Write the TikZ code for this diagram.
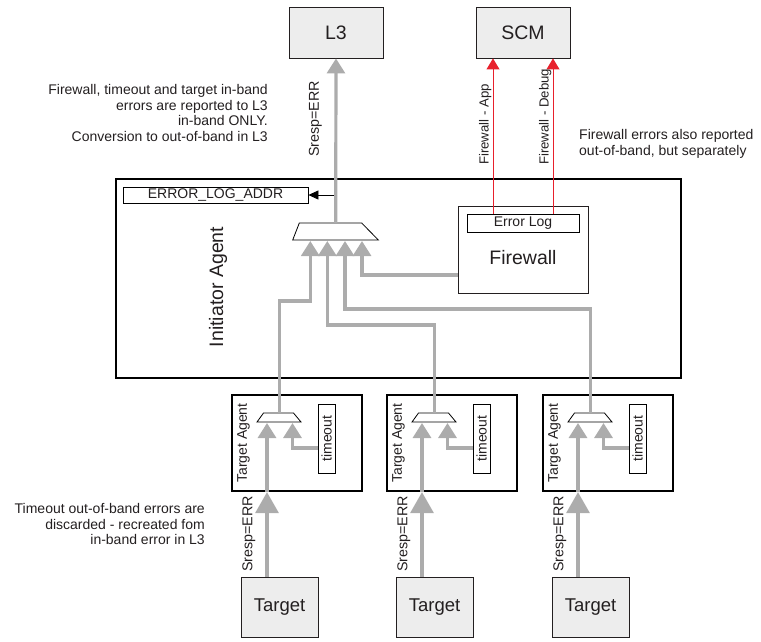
\documentclass[tikz,border=0pt]{standalone}
\usepackage{fontspec}
\setmainfont{Liberation Sans}
\usetikzlibrary{arrows.meta}
\definecolor{errgray}{RGB}{172,172,172}
\definecolor{boxgray}{RGB}{237,237,237}
\definecolor{fwred}{RGB}{232,32,44}
\definecolor{ink}{RGB}{35,31,32}

\begin{document}
\begin{tikzpicture}[x=1pt,y=-1pt,line join=miter,
    smalltxt/.style={text=ink,font=\fontsize{14}{15.7}\selectfont},
    lbltxt/.style={text=ink,font=\fontsize{13.2}{15}\selectfont},
    bigtxt/.style={text=ink,font=\fontsize{19.5}{22}\selectfont},
    graybox/.style={draw=ink,fill=boxgray,line width=0.9pt,bigtxt},
    thinbox/.style={draw=black,line width=0.8pt,inner sep=0pt,smalltxt},
    errline/.style={errgray,line width=3.2pt},
    fwline/.style={fwred,line width=1pt,-{Triangle[width=13pt,length=11pt]}},
    gtip/.style={-{Triangle[width=18pt,length=15pt]}},
    bigtip/.style={-{Triangle[width=23pt,length=21pt]}}]
  \useasboundingbox (0,0) rectangle (761,641);

  % top blocks
  \node[graybox,minimum width=94pt,minimum height=51pt] (L3) at (336,32.5) {L3};
  \node[graybox,minimum width=94pt,minimum height=51pt] (SCM) at (523,32.5) {SCM};

  % initiator agent
  \node[draw=black,line width=1.2pt,minimum width=565pt,minimum height=199pt] (ia) at (398.5,278.5) {};
  \node[bigtxt,rotate=90] (ialbl) at (218,287) {Initiator Agent};
  \node[thinbox,minimum width=185pt,minimum height=16pt] (addr) at (215.5,195) {ERROR\_LOG\_ADDR};
  \node[draw=ink,line width=0.9pt,minimum width=130pt,minimum height=87pt] (fw) at (523,249.5) {};
  \node[thinbox,minimum width=112pt,minimum height=18pt] (elog) at (523,223) {Error Log};
  \node[bigtxt] (fwtxt) at (523,258) {Firewall};
  \draw[fill=white,line width=0.8pt] (292.7,240) -- (299.3,223) -- (361.7,223) -- (378.3,240) -- cycle;
  \coordinate (im-out) at (335.7,223);
  \coordinate (addrtap) at (335.7,195);
  \foreach \n/\x in {1/310.3,2/327.3,3/345,4/362}
    \coordinate (im-in\n) at (\x,241);

  % target agents and targets
  \foreach \i/\l in {1/232,2/387,3/543}{
    \node[draw=black,line width=2.2pt,minimum width=130pt,minimum height=96pt] (ta\i) at (\l+65,443) {};
    \node[smalltxt,rotate=90] (talbl\i) at (\l+11.5,443) {Target Agent};
    \node[thinbox,rotate=90,minimum width=69pt,minimum height=17pt] (to\i) at (\l+94.5,438.5) {timeout};
    \draw[fill=white,line width=0.8pt] (\l+25,422) -- (\l+31.5,413) -- (\l+61.5,413) -- (\l+69,422) -- cycle;
    \coordinate (ta\i-out) at (\l+47.5,413);
    \coordinate (ta\i-in1) at (\l+35,423);
    \coordinate (ta\i-in2) at (\l+60.5,423);
    \node[graybox,font=\fontsize{18.5}{22}\selectfont,minimum width=77pt,minimum height=60pt] (tgt\i) at (\l+47.5,607) {Target};
    \draw[errline,bigtip] (tgt\i.north -| ta\i-in1) -- (ta\i.south -| ta\i-in1);
    \draw[errline,gtip] (ta\i.south -| ta\i-in1) -- (ta\i-in1);
    \draw[errline,gtip] ([yshift=-9.5pt]to\i.north) -| (ta\i-in2);
    \node[lbltxt,font=\fontsize{14.3}{16}\selectfont,rotate=90,anchor=south west,inner sep=0pt] (tasr\i) at (\l+23.5,572) {Sresp=ERR};
  }

  % in-band error paths
  \draw[line width=0.8pt,-{Triangle[width=9pt,length=10pt]}] (addrtap) -- (addr.east);
  \draw[errline,gtip] (ta1-out) -- ++(0,-112) -| (im-in1);
  \draw[errline,gtip] (ta2-out) -- ++(0,-88) -| (im-in2);
  \draw[errline,gtip] (ta3-out) -- ++(0,-104) -| (im-in3);
  \draw[errline,gtip] ([yshift=-25.5pt]fw.west) -| (im-in4);
  \draw[errline,gtip] (im-out) -- (L3.south);
  \node[lbltxt,font=\fontsize{14.3}{16}\selectfont,rotate=90,anchor=south west,inner sep=0pt] (iasr) at (322,157) {Sresp=ERR};

  % out-of-band firewall paths
  \draw[fwline] ([xshift=-30pt]elog.north) -- ([xshift=-30pt]SCM.south);
  \draw[fwline] ([xshift=30pt]elog.north) -- ([xshift=30pt]SCM.south);
  \node[lbltxt,rotate=90,anchor=south west,inner sep=0pt] (fwapp) at (491.5,165) {Firewall - App};
  \node[lbltxt,rotate=90,anchor=south west,inner sep=0pt] (fwdbg) at (551.5,165) {Firewall - Debug};

  % notes
  \node[smalltxt,align=right,anchor=east,inner sep=0pt] (note1) at (268,113)
    {Firewall, timeout and target in-band\\errors are reported to L3\\in-band ONLY.\\Conversion to out-of-band in L3};
  \node[smalltxt,align=left,anchor=west,inner sep=0pt] (note2) at (579,144)
    {Firewall errors also reported\\out-of-band, but separately};
  \node[smalltxt,align=right,anchor=east,inner sep=0pt] (note3) at (205,524)
    {Timeout out-of-band errors are\\discarded - recreated fom\\in-band error in L3};
\end{tikzpicture}
\end{document}
